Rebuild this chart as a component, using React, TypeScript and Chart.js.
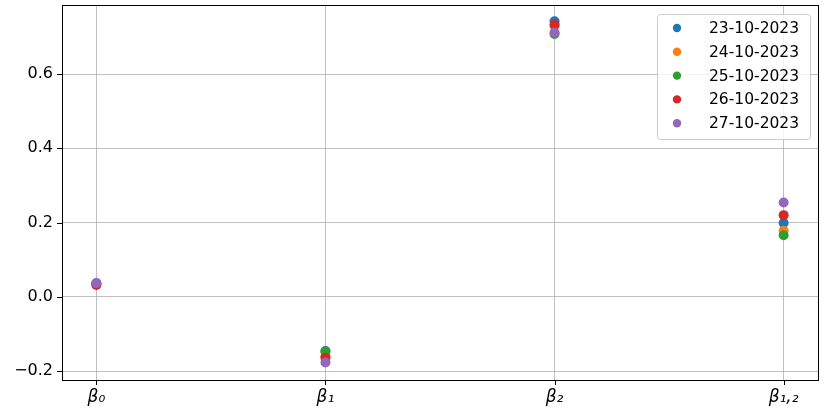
import React, { useEffect, useRef } from "react";
import { Chart, registerables } from "chart.js";

Chart.register(...registerables);

const categories = ["β₀", "β₁", "β₂", "β₁,₂"];
const seriesLabels = ["23-10-2023", "24-10-2023", "25-10-2023", "26-10-2023", "27-10-2023"];
const seriesColors = ["#1f77b4", "#ff7f0e", "#2ca02c", "#d62728", "#9467bd"];
const s23 = [0.036, -0.146, 0.742, 0.199];
const s24 = [0.035, -0.160, 0.730, 0.178];
const s25 = [0.036, -0.148, 0.708, 0.166];
const s26 = [0.032, -0.164, 0.733, 0.220];
const s27 = [0.037, -0.177, 0.712, 0.254];
const seriesValues = [s23, s24, s25, s26, s27];
const yTicks = [-0.2, 0.0, 0.2, 0.4, 0.6];

const FONT = "'DejaVu Sans', sans-serif";

const zeroPad = (s: any) => {
  s.paddingTop = 0;
  s.paddingBottom = 0;
  s.paddingLeft = 0;
  s.paddingRight = 0;
};

export default function App() {
  const ref = useRef<HTMLCanvasElement | null>(null);
  useEffect(() => {
    document.body.style.margin = "0";
    const canvas = ref.current!;
    const framePlugin = {
      id: "frame",
      afterDraw(chart: any) {
        const ctx = chart.ctx;
        const a = chart.chartArea;
        const xs = chart.scales.x;
        const ys = chart.scales.y;
        ctx.save();
        ctx.strokeStyle = "#000";
        ctx.lineWidth = 1;
        ctx.beginPath();
        categories.forEach((_, i) => {
          const x = Math.round(xs.getPixelForValue(i)) + 0.5;
          ctx.moveTo(x, a.bottom);
          ctx.lineTo(x, a.bottom + 5);
        });
        yTicks.forEach((v) => {
          const y = Math.round(ys.getPixelForValue(v)) + 0.5;
          ctx.moveTo(a.left - 5, y);
          ctx.lineTo(a.left, y);
        });
        ctx.stroke();
        ctx.strokeRect(Math.round(a.left) + 0.5, Math.round(a.top) + 0.5, Math.round(a.right - a.left), Math.round(a.bottom - a.top));
        // legend
        const lx = 657, ly = 14, lw = 153, lh = 125;
        ctx.fillStyle = "rgba(255,255,255,0.8)";
        ctx.strokeStyle = "#cccccc";
        ctx.beginPath();
        (ctx as any).roundRect(lx + 0.5, ly + 0.5, lw, lh, 3);
        ctx.fill();
        ctx.stroke();
        ctx.font = `15.5px ${FONT}`;
        ctx.textBaseline = "middle";
        ctx.textAlign = "left";
        chart.data.datasets.forEach((ds: any, i: number) => {
          const y = 28 + i * 23.8;
          ctx.fillStyle = ds.backgroundColor;
          ctx.beginPath();
          ctx.arc(677, y, 4.2, 0, Math.PI * 2);
          ctx.fill();
          ctx.fillStyle = "#000";
          ctx.fillText(ds.label, 709, y + 1);
        });
        ctx.restore();
      },
    };
    const chart = new Chart(canvas, {
      type: "scatter",
      data: {
        datasets: seriesValues.map((vals, i) => ({
          label: seriesLabels[i],
          data: vals.map((v, j) => ({ x: j, y: v })),
          backgroundColor: seriesColors[i],
          borderColor: seriesColors[i],
          pointRadius: 5,
          pointBorderWidth: 0,
          order: seriesValues.length - 1 - i,
        })),
      },
      options: {
        animation: false,
        responsive: false,
        layout: { padding: { top: 4, right: 7, left: 0, bottom: 0 } },
        plugins: { legend: { display: false }, tooltip: { enabled: false } },
        scales: {
          x: {
            type: "linear",
            min: -0.15,
            max: 3.15,
            afterBuildTicks: (s: any) => {
              s.ticks = categories.map((_, i) => ({ value: i }));
            },
            afterFit: (s: any) => {
              s.height = 34;
              zeroPad(s);
            },
            ticks: {
              callback: (v: any) => categories[v as number] ?? "",
              font: { family: FONT, size: 17, style: "italic" },
              color: "#000",
              padding: 7,
              maxRotation: 0,
              autoSkip: false,
            },
            grid: { color: "#b0b0b0", lineWidth: 0.8, drawTicks: false },
            border: { display: false },
          },
          y: {
            type: "linear",
            min: -0.224,
            max: 0.786,
            afterBuildTicks: (s: any) => {
              s.ticks = yTicks.map((v) => ({ value: v }));
            },
            afterFit: (s: any) => {
              s.width = 62;
              zeroPad(s);
            },
            ticks: {
              callback: (v: any) => (v as number).toFixed(1).replace("-", "−"),
              font: { family: FONT, size: 16 },
              color: "#000",
              padding: 9,
            },
            grid: { color: "#b0b0b0", lineWidth: 0.8, drawTicks: false },
            border: { display: false },
          },
        },
      },
      plugins: [framePlugin],
    });
    return () => chart.destroy();
  }, []);
  return (
    <div style={{ width: 825, height: 414 }}>
      <canvas ref={ref} width={825} height={414} style={{ width: 825, height: 414, display: "block" }} />
    </div>
  );
}
